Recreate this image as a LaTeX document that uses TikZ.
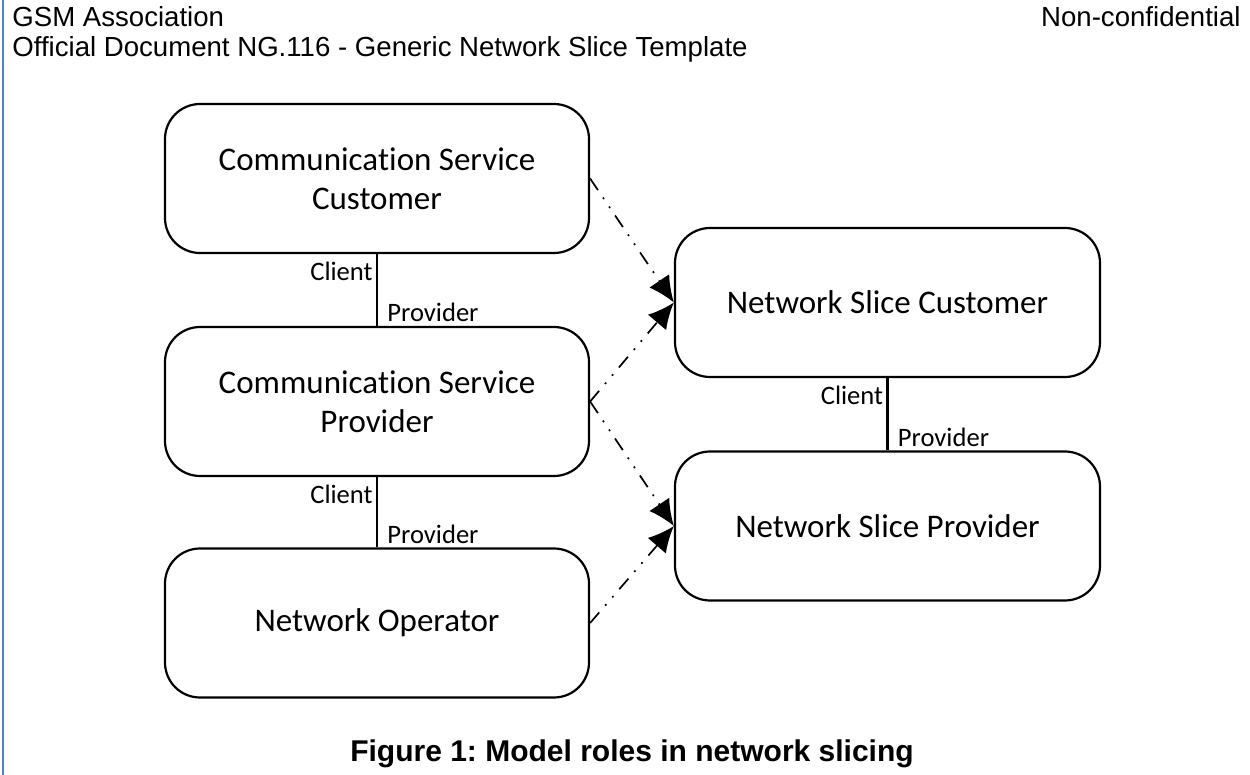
\documentclass[tikz,border=0pt]{standalone}
\usepackage{fontspec}
\setmainfont{Liberation Sans}
\newfontfamily\calfont[Ligatures={NoCommon,NoRare,NoContextual}]{Carlito}
\usetikzlibrary{arrows.meta}
\definecolor{wordblue}{RGB}{79,129,189}
\frenchspacing
\tikzset{
  rolebox/.style={draw, line width=1.1pt, rounded corners=17.5pt, minimum width=212pt, minimum height=74.5pt, align=center, inner sep=0pt, font=\calfont\fontsize{16.5}{19.5}\selectfont},
  relline/.style={line width=1.1pt},
  rellabel/.style={inner sep=0pt, font=\calfont\fontsize{13.3}{15}\selectfont},
  usearrow/.style={line width=0.85pt, dash pattern=on 7pt off 4.5pt on 0.9pt off 4.5pt on 0.9pt off 4.5pt, -{Latex[length=13pt,width=12pt]}},
  header/.style={inner sep=0pt, font=\fontsize{13.8}{16}\selectfont}
}
\begin{document}
\begin{tikzpicture}[x=0.5pt,y=-0.5pt]
\useasboundingbox (0,0) rectangle (1250,775);
\draw[wordblue, line width=1.2pt] (3,0) -- (3,775);
\node[header, anchor=base west] (h1) at (12,27) {GSM Association};
\node[header, anchor=base west] (h2) at (12,57) {Official Document NG.116 - Generic Network Slice Template};
\node[header, anchor=base east] (h3) at (1241,27) {Non-confidential};

\node[rolebox] (csc) at (377,178.5) {Communica\kern0pt tion Service\\Customer};
\node[rolebox] (csp) at (377,401.5) {Communica\kern0pt tion Service\\Provider};
\node[rolebox] (no) at (377,623) {Network Operator};
\node[rolebox, minimum width=212.5pt] (nsc) at (887.5,302.5) {Network Slice Customer};
\node[rolebox, minimum width=212.5pt] (nsp) at (887.5,526) {Network Slice Provider};

\draw[relline] (csc.south) -- (csp.north);
\node[rellabel, anchor=north east] (c1) at ([shift={(-4,8)}]csc.south) {Client};
\node[rellabel, anchor=base west] (p1) at ([shift={(10,-4)}]csp.north) {Provider};
\draw[relline] (csp.south) -- (no.north);
\node[rellabel, anchor=north east] (c2) at ([shift={(-4,8)}]csp.south) {Client};
\node[rellabel, anchor=base west] (p2) at ([shift={(10,-4)}]no.north) {Provider};
\draw[relline] (nsc.south) -- (nsp.north);
\node[rellabel, anchor=north east] (c3) at ([shift={(-4,8)}]nsc.south) {Client};
\node[rellabel, anchor=base west] (p3) at ([shift={(10,-4)}]nsp.north) {Provider};

\draw[usearrow] (csc.east) -- (nsc.west);
\draw[usearrow] (csp.east) -- (nsc.west);
\draw[usearrow] (csp.east) -- (nsp.west);
\draw[usearrow] (no.east) -- (nsp.west);

\node[inner sep=0pt, anchor=base, font=\bfseries\fontsize{15}{18}\selectfont] (cap) at (632,762) {Figure 1: Model roles in network slicing};
\end{tikzpicture}
\end{document}
